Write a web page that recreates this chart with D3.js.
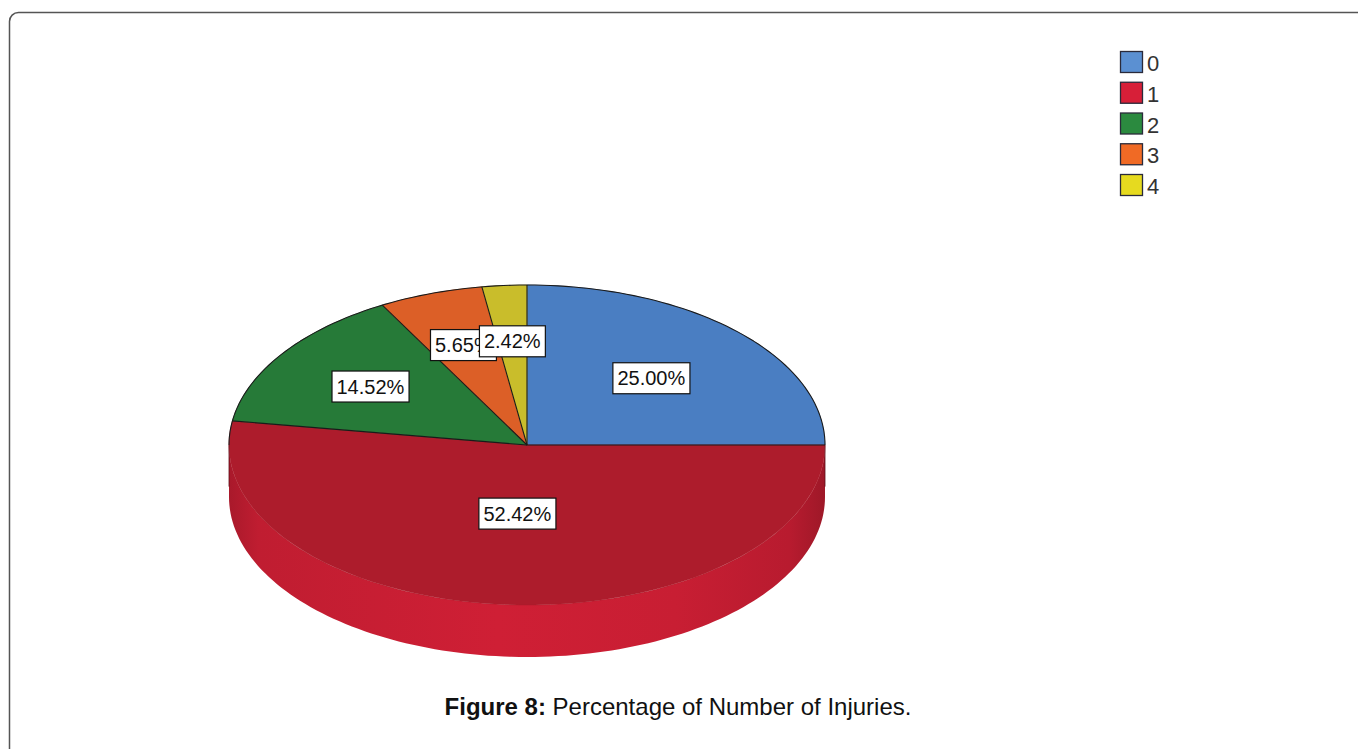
<!DOCTYPE html>
<html>
<head>
<meta charset="utf-8">
<script src="https://cdn.jsdelivr.net/npm/d3@7"></script>
<style>
  html, body { margin: 0; padding: 0; background: #fff; }
  svg { display: block; font-family: "Liberation Sans", Arial, sans-serif; }
</style>
</head>
<body>
<svg id="chart" width="1358" height="749"></svg>
<script>
// Number of injuries and share of respondents (%)
const categories = ["0", "1", "2", "3", "4"];
const percentages = [25.00, 52.42, 14.52, 5.65, 2.42];
const labelTexts = ["25.00%", "52.42%", "14.52%", "5.65%", "2.42%"];

// Face colours of the slices and the brighter swatches used in the legend
const faceColors = ["#4a7ec2", "#ad1c2c", "#267a38", "#dc5f27", "#c9bd2b"];
const legendColors = ["#5b90d2", "#d71f38", "#2b8a3f", "#f06a25", "#e6da1f"];

// How far out from the centre each label sits (fraction of the radius)
const labelRadius = [0.59, 0.43, 0.64, 0.66, 0.65];

const svg = d3.select("#chart");
const W = 1358, H = 749;

// Frame with a rounded corner
svg.append("rect")
  .attr("x", 9.5).attr("y", 12.5)
  .attr("width", W + 20).attr("height", H + 20)
  .attr("rx", 9).attr("ry", 9)
  .attr("fill", "none").attr("stroke", "#555").attr("stroke-width", 1.5);

// Tilted pie geometry
const cx = 527, cy = 445, rx = 298, ry = 160, depth = 52;

const pie = d3.pie().sort(null).value(d => d)
  .startAngle(0).endAngle(2 * Math.PI);
const arcs = pie(percentages);

// Point on the ellipse rim for a d3 angle (0 = up, clockwise)
const rim = (a, dy = 0) => [cx + rx * Math.sin(a), cy - ry * Math.cos(a) + dy];

// Side shading gradient
const defs = svg.append("defs");
const grad = defs.append("linearGradient").attr("id", "sideRed")
  .attr("x1", "0%").attr("x2", "100%").attr("y1", "0%").attr("y2", "0%");
[[0, "#a9192b"], [0.05, "#c01d31"], [0.45, "#cf1f35"], [0.75, "#c81e33"], [0.94, "#b81b2f"], [1, "#9e1828"]]
  .forEach(([o, c]) => grad.append("stop").attr("offset", o).attr("stop-color", c));

// Visible side wall: portions of each slice in the front half
const sideG = svg.append("g");
arcs.forEach((d, i) => {
  const a0 = Math.max(d.startAngle, Math.PI / 2);
  const a1 = Math.min(d.endAngle, 3 * Math.PI / 2);
  if (a1 <= a0) return;
  const n = 120;
  const top = d3.range(n + 1).map(k => rim(a0 + (a1 - a0) * k / n));
  const bottom = top.map(([x, y]) => [x, y + depth]).reverse();
  const fill = i === 1 ? "url(#sideRed)" : d3.color(faceColors[i]).brighter(0.3);
  sideG.append("path")
    .attr("d", d3.line()(top.concat(bottom)) + "Z")
    .attr("fill", fill);
});

// Top face slices drawn with d3.arc, squashed vertically into an ellipse
const arc = d3.arc().innerRadius(0).outerRadius(rx);
const faceG = svg.append("g")
  .attr("transform", `translate(${cx},${cy}) scale(1,${ry / rx})`);
faceG.selectAll("path").data(arcs).join("path")
  .attr("d", arc)
  .attr("fill", (d, i) => faceColors[i])
  .attr("stroke", (d, i) => faceColors[i]).attr("stroke-width", 0.6)
  .attr("vector-effect", "non-scaling-stroke");

// Outlines: slice edges and the back rim of the top face
const outline = svg.append("g").attr("fill", "none")
  .attr("stroke", "#1a1a1a").attr("stroke-width", 1.1).attr("stroke-linejoin", "round");
arcs.forEach(d => {
  outline.append("path").attr("d", d3.line()([[cx, cy], rim(d.startAngle)]));
});
outline.append("path")
  .attr("d", d3.line()(d3.range(0, 121).map(k => rim(-Math.PI / 2 + Math.PI * k / 120))));
// Side edges at the far left and right
outline.append("path").attr("stroke-width", 0.8).attr("stroke", "#5a0d16")
  .attr("d", d3.line()([rim(Math.PI / 2), rim(Math.PI / 2, depth * 0.8)]));
outline.append("path").attr("stroke-width", 0.8).attr("stroke", "#5a0d16")
  .attr("d", d3.line()([rim(-Math.PI / 2), rim(-Math.PI / 2, depth * 0.8)]));

// Value labels in white boxes
const labelG = svg.append("g").attr("font-size", 20).attr("fill", "#111");
arcs.forEach((d, i) => {
  const mid = (d.startAngle + d.endAngle) / 2;
  const f = labelRadius[i];
  const x = cx + rx * f * Math.sin(mid);
  const y = cy - ry * f * Math.cos(mid);
  const g = labelG.append("g").attr("transform", `translate(${x},${y})`);
  const t = g.append("text").attr("text-anchor", "middle").attr("dy", "0.35em")
    .attr("fill", "#111").text(labelTexts[i]);
  const bb = t.node().getBBox();
  g.insert("rect", "text")
    .attr("x", bb.x - 4.5).attr("y", -15.5)
    .attr("width", bb.width + 9).attr("height", 31)
    .attr("fill", "#fff").attr("stroke", "#111").attr("stroke-width", 1.2);
});

// Legend
const legend = svg.append("g").attr("transform", "translate(1120,51)");
const ly = d3.scalePoint().domain(categories).range([0, 123]);
categories.forEach((c, i) => {
  const g = legend.append("g").attr("transform", `translate(0,${ly(c)})`);
  g.append("rect").attr("x", 0.5).attr("y", 0.5).attr("width", 22).attr("height", 21)
    .attr("fill", legendColors[i]).attr("stroke", "#2a2a3a").attr("stroke-width", 1.3);
  g.append("text").attr("x", 27).attr("y", 20).attr("font-size", 22)
    .attr("fill", "#333").text(c);
});

// Caption
const cap = svg.append("text").attr("x", 678).attr("y", 715)
  .attr("text-anchor", "middle").attr("font-size", 24).attr("fill", "#111");
cap.append("tspan").attr("font-weight", "bold").text("Figure 8:");
cap.append("tspan").text(" Percentage of Number of Injuries.");
</script>
</body>
</html>
